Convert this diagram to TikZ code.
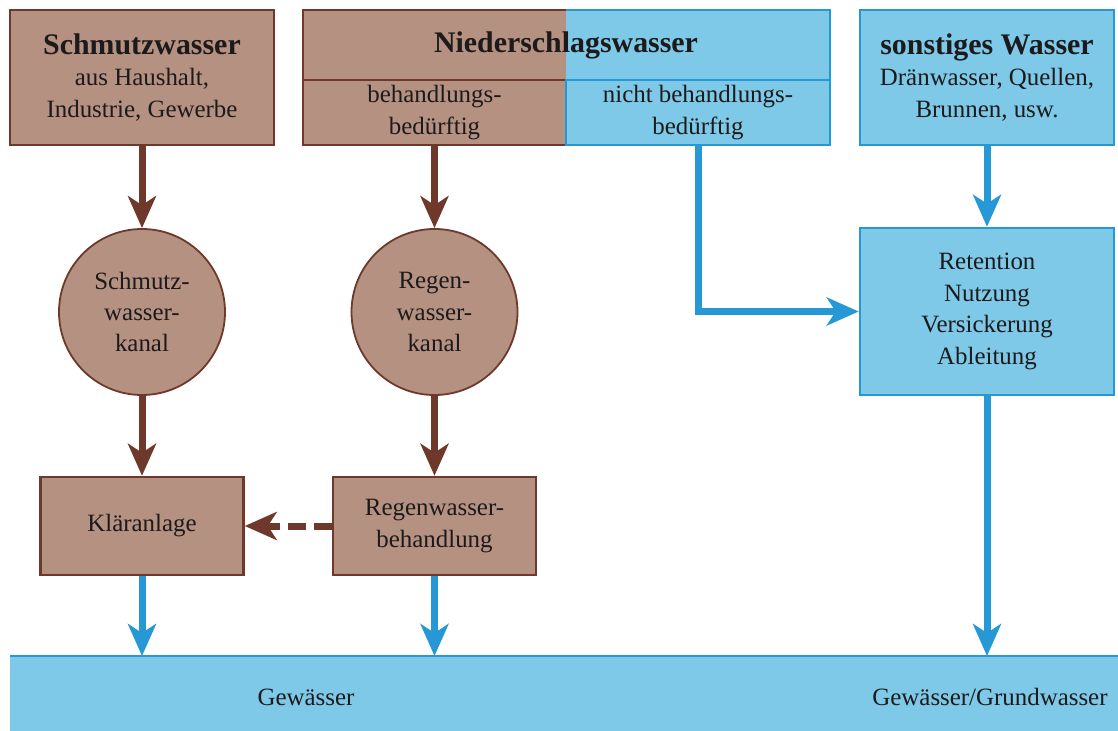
\documentclass[tikz,border=0pt]{standalone}
\usepackage{fontspec}
\setmainfont{Liberation Serif}
\usetikzlibrary{arrows.meta}
\definecolor{braunfill}{RGB}{181,145,129}
\definecolor{braunline}{RGB}{110,56,42}
\definecolor{blaufill}{RGB}{126,200,232}
\definecolor{blauline}{RGB}{38,152,214}
\definecolor{schrift}{RGB}{28,26,26}
\newcommand{\titelsatz}[1]{{\fontsize{30}{32}\selectfont\bfseries #1}}
\tikzset{
  txt/.style={font=\fontsize{25}{31.5}\selectfont,text=schrift,align=center,inner sep=0pt},
  braunbox/.style={txt,draw=braunline,fill=braunfill,line width=2.5bp},
  blaubox/.style={txt,draw=blauline,fill=blaufill,line width=2.5bp},
  kanal/.style={txt,circle,draw=braunline,fill=braunfill,line width=1.8bp,minimum size=166bp},
  braunpfeil/.style={draw=braunline,line width=7bp,-{Stealth[length=32bp,width=28bp,inset=9bp]}},
  blaupfeil/.style={draw=blauline,line width=7bp,-{Stealth[length=32bp,width=28bp,inset=9bp]}}
}
\begin{document}
\begin{tikzpicture}[x=1bp,y=-1bp]
\useasboundingbox (0,0) rectangle (1118,731);
\node[braunbox,minimum width=264bp,minimum height=135bp] (schmutz) at (142,77.5) {\titelsatz{Schmutzwasser}\\aus Haushalt,\\Industrie, Gewerbe};
\node[braunbox,draw=none,outer sep=0pt,minimum width=263bp,minimum height=70bp] (nsl) at (434.5,45) {};
\node[blaubox,draw=none,outer sep=0pt,minimum width=264bp,minimum height=70bp] (nsr) at (698,45) {};
\draw[braunline,line width=2.5bp] (nsl.north east) -- (nsl.north west) -- (nsl.south west);
\draw[blauline,line width=2.5bp] (nsr.north west) -- (nsr.north east) -- (nsr.south east);
\node[braunbox,minimum width=263bp,minimum height=65bp] (beh) at (434.5,112.5) {behandlungs-\\bedürftig};
\node[blaubox,minimum width=264bp,minimum height=65bp] (nbeh) at (698,112.5) {nicht behandlungs-\\bedürftig};
\node[txt] (nsw) at (566,45) {\titelsatz{Niederschlagswasser}};
\node[blaubox,minimum width=254bp,minimum height=135bp] (sonst) at (987,77.5) {\titelsatz{sonstiges Wasser}\\Dränwasser, Quellen,\\Brunnen, usw.};
\node[kanal] (skanal) at (142,312) {Schmutz-\\wasser-\\kanal};
\node[kanal] (rkanal) at (434.5,312) {Regen-\\wasser-\\kanal};
\node[braunbox,minimum width=203bp,minimum height=98bp] (klaer) at (142,526) {Kläranlage};
\node[braunbox,minimum width=203bp,minimum height=98bp] (rwb) at (434.5,526) {Regenwasser-\\behandlung};
\node[blaubox,minimum width=254bp,minimum height=167bp] (ret) at (987,311.5) {Retention\\Nutzung\\Versickerung\\Ableitung};
\node[fill=blaufill,minimum width=1108bp,minimum height=75bp,inner sep=0pt,outer sep=0pt,anchor=north west] (gewbar) at (10,656) {};
\draw[blauline,line width=2bp] (gewbar.north west) -- (gewbar.north east);
\node[txt] (gew) at (306,697) {Gewässer};
\node[txt] (gewgr) at (990,697) {Gewässer/Grundwasser};
\draw[braunpfeil] (schmutz) -- (skanal);
\draw[braunpfeil] (skanal) -- (klaer);
\draw[braunpfeil] (beh) -- (rkanal);
\draw[braunpfeil] (rkanal) -- (rwb);
\draw[braunpfeil,dash pattern=on 18bp off 8bp] (rwb.west) -- (klaer.east);
\draw[blaupfeil] (nbeh.south) |- (ret.west);
\draw[blaupfeil] (sonst) -- (ret);
\draw[blaupfeil] (klaer.south) -- (klaer.south |- gewbar.north);
\draw[blaupfeil] (rwb.south) -- (rwb.south |- gewbar.north);
\draw[blaupfeil] (ret.south) -- (ret.south |- gewbar.north);
\end{tikzpicture}
\end{document}
